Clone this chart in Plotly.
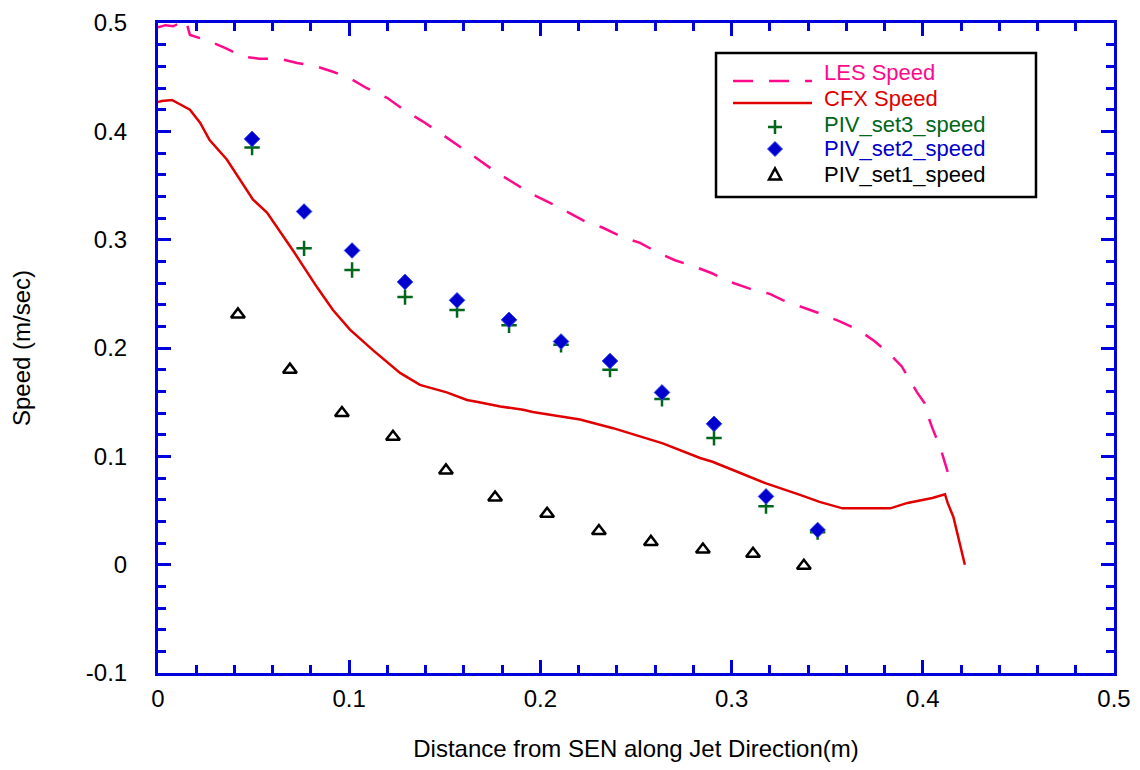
import plotly.graph_objects as go
import numpy as np

# ---------------- data ----------------
les_x = [0, 0.004, 0.008, 0.012, 0.0145, 0.0167, 0.0256, 0.035, 0.0445, 0.053, 0.064, 0.0727,
         0.081, 0.0915, 0.1004, 0.109, 0.1198, 0.1292, 0.1386, 0.1475, 0.1579, 0.1668, 0.1763,
         0.1878, 0.1956, 0.205, 0.2139, 0.2233, 0.2327, 0.2427, 0.2521, 0.2615, 0.2704, 0.2809,
         0.2897, 0.2992, 0.309, 0.320, 0.327, 0.337, 0.346, 0.356, 0.366, 0.375, 0.384, 0.389,
         0.392, 0.397, 0.401, 0.402, 0.405, 0.409, 0.414]
les_y = [0.496, 0.498, 0.497, 0.501, 0.503, 0.489, 0.484, 0.477, 0.469, 0.467, 0.467, 0.463,
         0.461, 0.455, 0.449, 0.440, 0.431, 0.419, 0.409, 0.3985, 0.386, 0.375, 0.363,
         0.3505, 0.342, 0.334, 0.326, 0.317, 0.311, 0.3025, 0.297, 0.288, 0.281, 0.275,
         0.269, 0.261, 0.255, 0.250, 0.244, 0.238, 0.232, 0.225, 0.217, 0.206, 0.192, 0.183,
         0.174, 0.159, 0.149, 0.141, 0.126, 0.109, 0.080]

cfx_x = [0, 0.002, 0.0073, 0.0167, 0.022, 0.027, 0.036, 0.043, 0.0497, 0.057, 0.0706, 0.0832,
         0.0915, 0.1004, 0.1124, 0.1266, 0.137, 0.151, 0.1616, 0.168, 0.179, 0.191, 0.196,
         0.210, 0.2207, 0.238, 0.264, 0.2835, 0.290, 0.3007, 0.318, 0.3358, 0.346, 0.358,
         0.383, 0.392, 0.405, 0.4116, 0.413, 0.416, 0.418, 0.4205, 0.422]
cfx_y = [0.427, 0.428, 0.429, 0.420, 0.408, 0.392, 0.374, 0.355, 0.337, 0.325, 0.290, 0.256,
         0.235, 0.217, 0.198, 0.177, 0.166, 0.159, 0.152, 0.150, 0.146, 0.143, 0.141,
         0.137, 0.134, 0.126, 0.112, 0.0985, 0.095, 0.0874, 0.075, 0.0644, 0.058, 0.052,
         0.052, 0.057, 0.0615, 0.065, 0.057, 0.044, 0.029, 0.011, 0.0]

piv23_x = [0.0492, 0.0764, 0.1015, 0.1292, 0.1564, 0.1836, 0.2108, 0.2364, 0.2636, 0.2908, 0.318, 0.345]
piv3_y = [0.385, 0.292, 0.272, 0.247, 0.235, 0.221, 0.203, 0.180, 0.153, 0.117, 0.054, 0.030]
piv2_y = [0.393, 0.326, 0.290, 0.261, 0.244, 0.226, 0.206, 0.188, 0.159, 0.130, 0.063, 0.032]

piv1_x = [0.0418, 0.069, 0.0962, 0.1229, 0.1506, 0.1763, 0.2035, 0.2306, 0.2578, 0.285, 0.3112, 0.3378]
piv1_y = [0.231, 0.180, 0.140, 0.118, 0.087, 0.062, 0.047, 0.031, 0.021, 0.014, 0.010, -0.001]

x_ticks = [0, 0.1, 0.2, 0.3, 0.4, 0.5]
x_ticktext = ["0", "0.1", "0.2", "0.3", "0.4", "0.5"]
y_ticks = [-0.1, 0, 0.1, 0.2, 0.3, 0.4, 0.5]
y_ticktext = ["-0.1", "0", "0.1", "0.2", "0.3", "0.4", "0.5"]

legend_names = ["LES Speed", "CFX Speed", "PIV_set3_speed", "PIV_set2_speed", "PIV_set1_speed"]

# ---------------- style ----------------
PINK = "#FF0A8C"
RED = "#E00000"
GREEN = "#00661A"
BLUE = "#0000CC"
AXIS = "#0000DD"
FONT = "Liberation Sans, Arial, sans-serif"
LES_DASH = "20px,16px"

fig = go.Figure()
fig.add_trace(go.Scatter(x=les_x, y=les_y, mode="lines", name=legend_names[0],
                         line=dict(color=PINK, width=2.5, dash=LES_DASH)))
fig.add_trace(go.Scatter(x=cfx_x, y=cfx_y, mode="lines", name=legend_names[1],
                         line=dict(color=RED, width=2.5)))
fig.add_trace(go.Scatter(x=piv23_x, y=piv3_y, mode="markers", name=legend_names[2],
                         marker=dict(symbol="cross-thin", size=11, color=GREEN,
                                     line=dict(color=GREEN, width=2.5))))
fig.add_trace(go.Scatter(x=piv23_x, y=piv2_y, mode="markers", name=legend_names[3],
                         marker=dict(symbol="diamond", size=12, color=BLUE,
                                     line=dict(color="#3344EE", width=1))))
fig.add_trace(go.Scatter(x=piv1_x, y=piv1_y, mode="markers", name=legend_names[4],
                         marker=dict(symbol="triangle-up-open", size=12, color="black",
                                     line=dict(color="black", width=2.5))))

axis_common = dict(
    showline=True, linecolor=AXIS, linewidth=3, mirror="ticks",
    ticks="inside", ticklen=13, tickwidth=2.5, tickcolor=AXIS,
    showgrid=False, zeroline=False,
    tickfont=dict(family=FONT, size=24, color="black"),
    tickmode="array",
)

fig.update_xaxes(
    **axis_common, range=[0, 0.5], tickvals=x_ticks, ticktext=x_ticktext,
    ticklabelstandoff=2,
    minor=dict(ticks="inside", ticklen=8, tickwidth=2.5, tickcolor=AXIS,
               tickvals=list(np.round(np.arange(0, 0.5001, 0.02), 3)), showgrid=False),
    title=dict(text="Distance from SEN along Jet Direction(m)",
               font=dict(family=FONT, size=24, color="black"), standoff=30),
)
fig.update_yaxes(
    **axis_common, range=[-0.1, 0.5], tickvals=y_ticks, ticktext=y_ticktext,
    ticklabelstandoff=23,
    minor=dict(ticks="inside", ticklen=8, tickwidth=2.5, tickcolor=AXIS,
               tickvals=list(np.round(np.arange(-0.1, 0.5001, 0.02), 3)), showgrid=False),
    title=dict(text="Speed (m/sec)", font=dict(family=FONT, size=24, color="black"), standoff=50),
)

# ---------------- hand-built legend (paper coordinates, pixel-sized symbols) ----------------
SYM_X = 0.6454
shapes = [
    dict(type="rect", xref="paper", yref="paper", x0=0.5837, x1=0.9184, y0=0.7323, y1=0.9538,
         line=dict(color="black", width=2.5), fillcolor="white", layer="above"),
    dict(type="line", xref="paper", yref="paper", x0=0.6015, x1=0.6841, y0=0.9108, y1=0.9108,
         line=dict(color=PINK, width=2.5, dash=LES_DASH), layer="above"),
    dict(type="line", xref="paper", yref="paper", x0=0.6015, x1=0.6841, y0=0.8769, y1=0.8769,
         line=dict(color=RED, width=2.5), layer="above"),
    # plus
    dict(type="path", xref="paper", yref="paper", xsizemode="pixel", ysizemode="pixel",
         xanchor=SYM_X, yanchor=0.8400, path="M-7,0 L7,0 M0,-7 L0,7",
         line=dict(color=GREEN, width=2.5), layer="above"),
    # diamond
    dict(type="path", xref="paper", yref="paper", xsizemode="pixel", ysizemode="pixel",
         xanchor=SYM_X, yanchor=0.8062, path="M0,-7.5 L7.5,0 L0,7.5 L-7.5,0 Z",
         line=dict(color="#3344EE", width=1), fillcolor=BLUE, layer="above"),
    # open triangle
    dict(type="path", xref="paper", yref="paper", xsizemode="pixel", ysizemode="pixel",
         xanchor=SYM_X, yanchor=0.7662, path="M-6,-4.5 L6,-4.5 L0,6.5 Z",
         line=dict(color="black", width=2.5), fillcolor="rgba(0,0,0,0)", layer="above"),
]
text_y = [0.9246, 0.8846, 0.8446, 0.8062, 0.7662]
text_col = [PINK, RED, GREEN, BLUE, "black"]
annotations = []
for name, yy, col in zip(legend_names, text_y, text_col):
    annotations.append(dict(xref="paper", yref="paper", x=0.6956, y=yy, xanchor="left",
                            yanchor="middle", text=name, showarrow=False, borderpad=0,
                            font=dict(family=FONT, size=22, color=col)))

fig.update_layout(
    width=1132, height=762,
    margin=dict(l=150, r=26, t=15, b=97, autoexpand=False),
    paper_bgcolor="white", plot_bgcolor="white",
    font=dict(family=FONT, size=24, color="black"),
    showlegend=False,
    shapes=shapes,
    annotations=annotations,
)

fig.write_html("out.html")
